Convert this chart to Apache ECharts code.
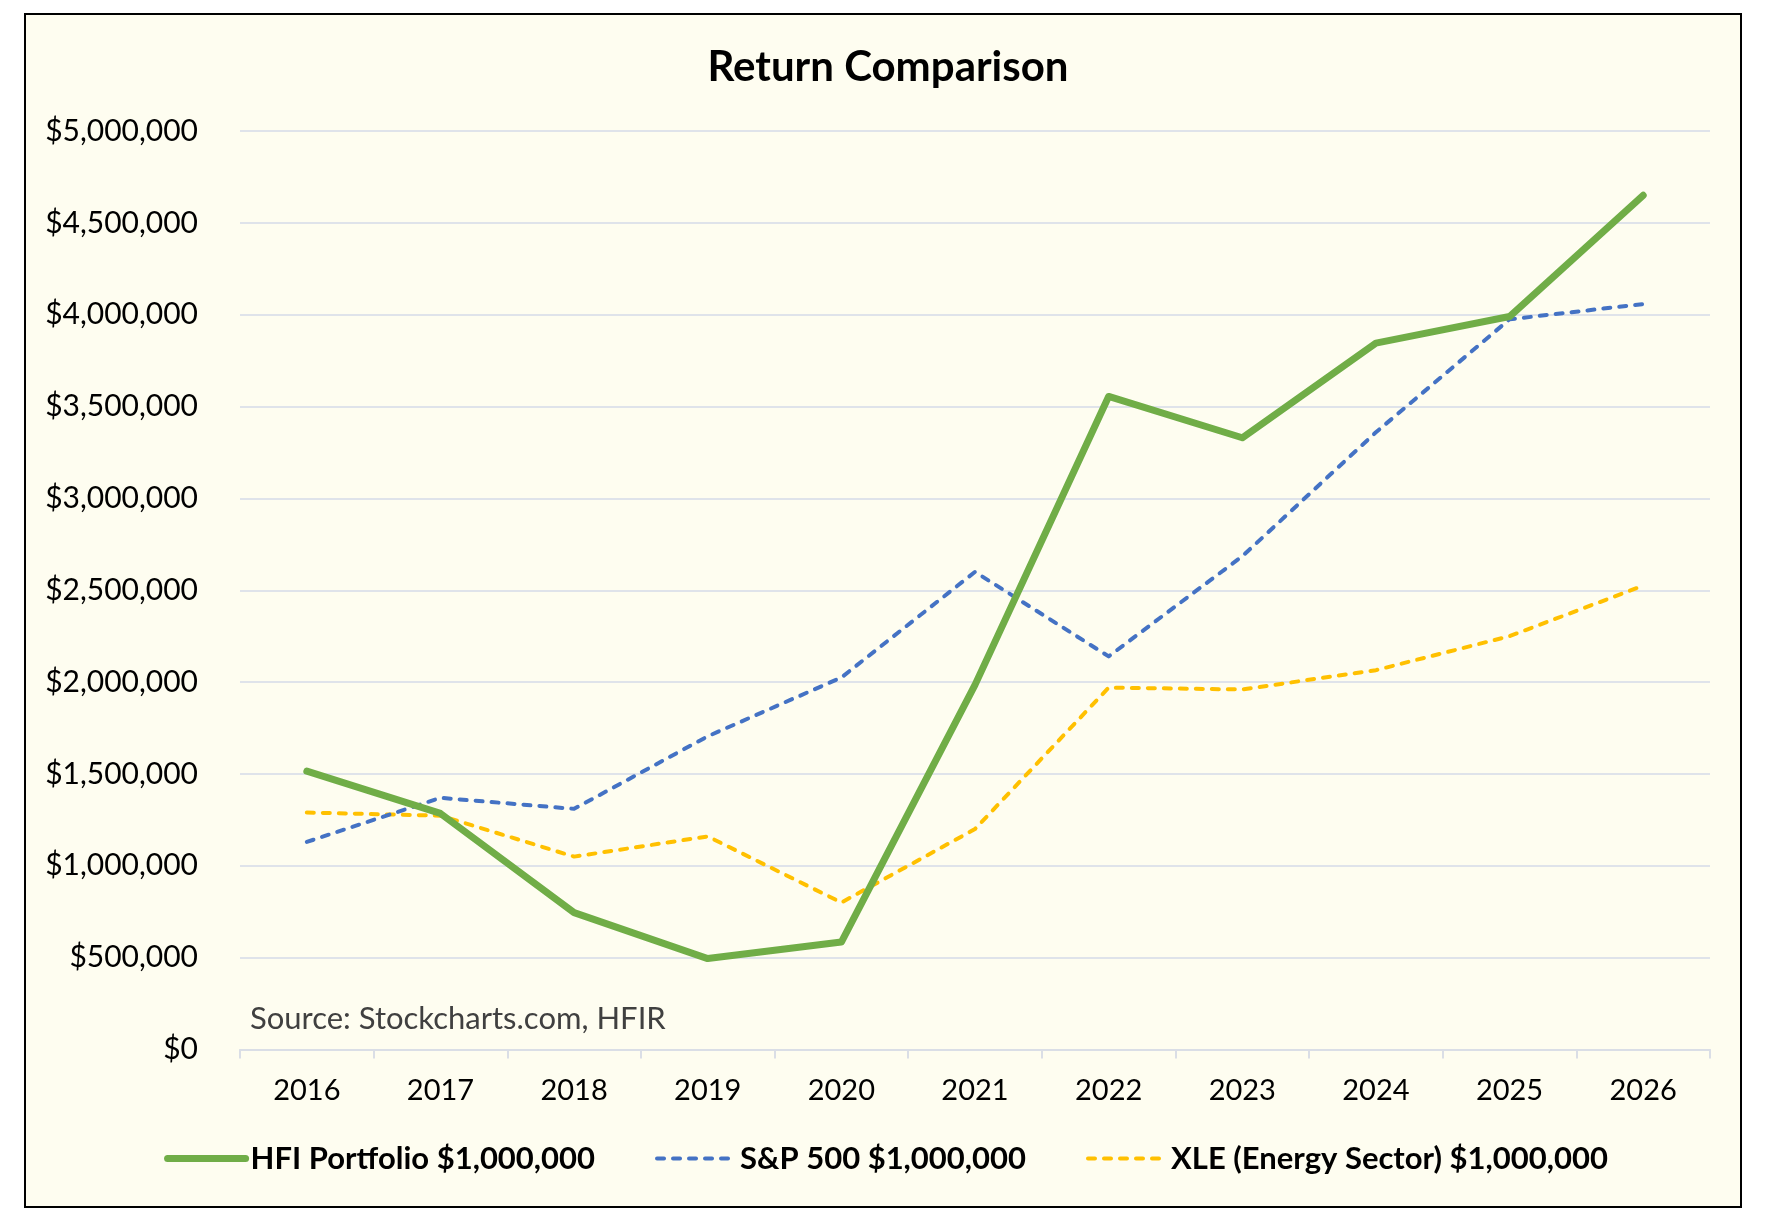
<!DOCTYPE html>
<html>
<head>
<meta charset="utf-8">
<script src="https://cdn.jsdelivr.net/npm/echarts@6/dist/echarts.min.js"></script>
<style>
html,body{margin:0;padding:0;background:#ffffff;}
#chart{width:1772px;height:1230px;}
</style>
</head>
<body>
<div id="chart"></div>
<script>
const years = ['2016','2017','2018','2019','2020','2021','2022','2023','2024','2025','2026'];
const hfiPortfolio = [1515000, 1285000, 745000, 495000, 585000, 1985000, 3555000, 3330000, 3845000, 3990000, 4650000];
const sp500 = [1130000, 1370000, 1310000, 1705000, 2025000, 2600000, 2140000, 2685000, 3360000, 3975000, 4058000];
const xleEnergy = [1290000, 1273000, 1050000, 1160000, 800000, 1200000, 1970000, 1960000, 2065000, 2250000, 2525000];
const seriesNames = ['HFI Portfolio $1,000,000', 'S&P 500 $1,000,000', 'XLE (Energy Sector) $1,000,000'];
const yMin = 0, yMax = 5000000, yStep = 500000;

const FONT = 'Lato';
const GREEN = '#70ad47', BLUE = '#4472c4', GOLD = '#ffc000';
const chart = echarts.init(document.getElementById('chart'), null, {renderer: 'canvas'});
const option = {
  backgroundColor: '#ffffff',
  animation: false,
  title: {
    text: 'Return Comparison',
    left: 883, top: 41, textAlign: 'center',
    textStyle: {fontFamily: FONT, fontWeight: 'bold', fontSize: 42, color: '#000000'}
  },
  graphic: [
    {type: 'rect', z: -10, silent: true,
     shape: {x: 25, y: 14, width: 1716, height: 1193},
     style: {fill: '#fefdf0', stroke: '#000000', lineWidth: 2}},
    {type: 'text', left: 250, top: 1003, z: 10, silent: true,
     style: {text: 'Source: Stockcharts.com, HFIR', fontFamily: FONT, fontSize: 31, fill: '#404040'}}
  ],
  legend: {
    data: [
      {name: seriesNames[0], itemStyle: {opacity: 0}, lineStyle: {color: GREEN, width: 7, cap: 'round'}},
      {name: seriesNames[1], itemStyle: {opacity: 0}, lineStyle: {color: BLUE, width: 4, type: [7, 9], cap: 'round'}},
      {name: seriesNames[2], itemStyle: {opacity: 0}, lineStyle: {color: GOLD, width: 4, type: [7, 9], cap: 'round'}}
    ],
    left: 'center', top: 1138,
    itemWidth: 78, itemHeight: 14, itemGap: 60,
    textStyle: {fontFamily: FONT, fontWeight: 'bold', fontSize: 31, color: '#000000'}
  },
  grid: {left: 240, right: 62, top: 131, bottom: 180.5, containLabel: false},
  xAxis: {
    type: 'category', data: years, boundaryGap: true,
    axisLine: {lineStyle: {color: '#dadee6', width: 2}},
    axisTick: {show: true, length: 9, lineStyle: {color: '#dadee6', width: 2}},
    axisLabel: {fontFamily: FONT, fontSize: 29, color: '#000000', margin: 27}
  },
  yAxis: {
    type: 'value', min: yMin, max: yMax, interval: yStep,
    axisLine: {show: false}, axisTick: {show: false},
    splitLine: {lineStyle: {color: '#dfe3ea', width: 2}},
    axisLabel: {fontFamily: FONT, fontSize: 30, color: '#000000', margin: 42,
      formatter: v => '$' + v.toLocaleString('en-US')}
  },
  series: [
    {name: seriesNames[0], type: 'line', data: hfiPortfolio, symbol: 'none', z: 5,
     lineStyle: {color: GREEN, width: 7, cap: 'round', join: 'round'}, itemStyle: {color: GREEN}},
    {name: seriesNames[1], type: 'line', data: sp500, symbol: 'none', z: 4,
     lineStyle: {color: BLUE, width: 4, type: [7, 9], cap: 'round', join: 'round'}, itemStyle: {color: BLUE}},
    {name: seriesNames[2], type: 'line', data: xleEnergy, symbol: 'none', z: 3,
     lineStyle: {color: GOLD, width: 4, type: [7, 9], cap: 'round', join: 'round'}, itemStyle: {color: GOLD}}
  ]
};
chart.setOption(option);
</script>
</body>
</html>
